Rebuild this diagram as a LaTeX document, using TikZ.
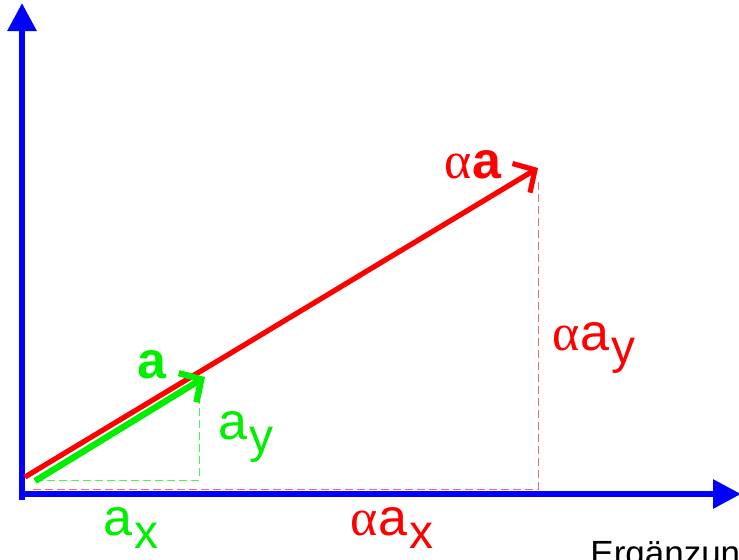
\documentclass[tikz,border=0pt]{standalone}
\usepackage{fontspec}
\setmainfont{Liberation Sans}
\newfontfamily\grk{Liberation Serif}
\usepackage{tikz}
\usetikzlibrary{arrows.meta}
\definecolor{vblue}{RGB}{0,0,255}
\definecolor{vred}{RGB}{255,0,0}
\definecolor{vgreen}{RGB}{0,238,0}
\newcommand{\lowsub}[1]{\kern1pt\raisebox{-0.5ex}{\fontsize{24}{24}\selectfont #1}}

\begin{document}
\begin{tikzpicture}[x=0.5pt, y=0.5pt, axis/.style = {vblue, line width=3pt, -{Triangle[length=14pt, width=14pt]}},
                vec/.style = {line width=2.6pt, line cap=butt, -{Straight Barb[length=8pt, width=17pt]}},
                help/.style = {dashed, line width=0.5pt, dash pattern=on 4pt off 2pt},
                lab/.style = {font=\fontsize{26}{28}\selectfont, inner sep=0pt}] 
                \useasboundingbox (0,0) rectangle (739,559);
                \coordinate (O) at (22, 65);
                \coordinate (Y) at (22, 556);
                \coordinate (X) at (741, 65);
                \coordinate (r0) at (25, 82);
                \coordinate (r1) at (538, 391);
                \coordinate (g0) at (35, 78);
                \coordinate (g1) at (205, 182);
                \coordinate (gx) at (199, 79);
                \coordinate (gy) at (199, 170);
                \coordinate (rs) at (33, 70);
                \coordinate (rx) at (538, 70);
                \coordinate (ry) at (538, 378);
                % helper lines
                \draw[help, vgreen!70] (g0 |- gx) -- (gx) -- (gy);
                \draw[help, vred!60] (rs) -- (rx) -- (ry);
                % axes
                \draw[axis] ([yshift=-3pt]O) -- (Y);
                \draw[axis] ([xshift=-1.5pt]O) -- (X);
                % vectors
                \draw[vec, vred] (r0) -- (r1);
                \draw[vec, vgreen, line width=3.2pt] (g0) -- (g1);
                % labels
                \node[lab, vgreen] (1) at (152, 194) {\textbf{a}};
                \node[lab, vgreen] (2) at (246, 122) {a\lowsub{y}};
                \node[lab, vgreen] (3) at (131, 31) {a\lowsub{x}};
                \node[lab, vred] (4) at (392, 31) {{\grk α}a\lowsub{x}};
                \node[lab, vred] (5) at (594, 211) {{\grk α}a\lowsub{y}};
                \node[lab, vred] (6) at (473, 394) {{\grk α}\textbf{a}};
                \node[anchor=base west, inner sep=0pt, font=\fontsize{17.5}{19}\selectfont] (7) at (590, -6) {Ergänzung};
            \end{tikzpicture}
\end{document}
